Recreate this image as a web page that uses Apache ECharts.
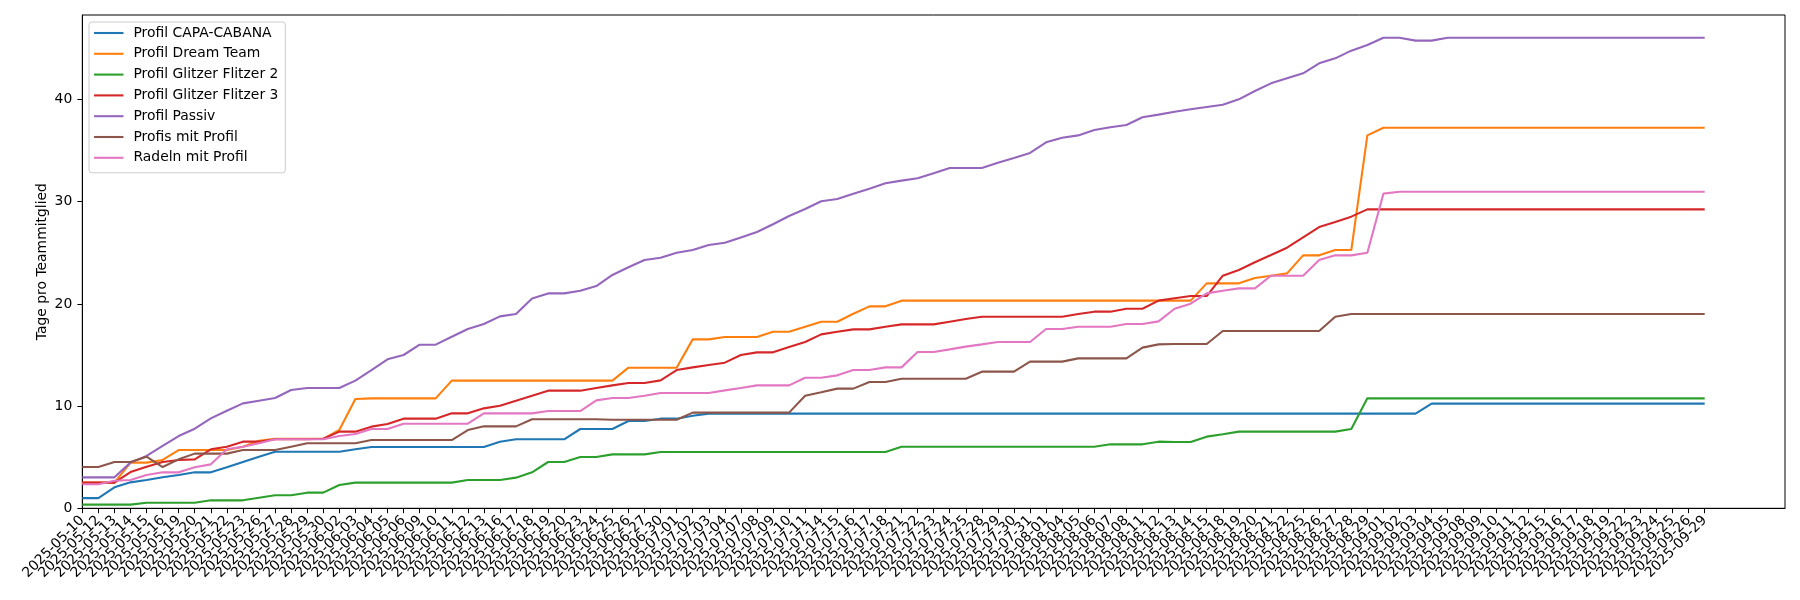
<!DOCTYPE html>
<html>
<head>
<meta charset="utf-8">
<script src="https://cdn.jsdelivr.net/npm/echarts@6/dist/echarts.min.js"></script>
<style>html,body{margin:0;padding:0;background:#fff}#c{width:1800px;height:600px}</style>
</head>
<body>
<div id="c"></div>
<script>
const dates = [
'2025-05-10','2025-05-12','2025-05-13','2025-05-14','2025-05-15','2025-05-16','2025-05-19','2025-05-20','2025-05-21','2025-05-22','2025-05-23','2025-05-26','2025-05-27','2025-05-28','2025-05-29','2025-05-30',
'2025-06-02','2025-06-03','2025-06-04','2025-06-05','2025-06-06','2025-06-09','2025-06-10','2025-06-11','2025-06-12','2025-06-13','2025-06-16','2025-06-17','2025-06-18','2025-06-19','2025-06-20','2025-06-23','2025-06-24','2025-06-25','2025-06-26','2025-06-27','2025-06-30',
'2025-07-01','2025-07-02','2025-07-03','2025-07-04','2025-07-07','2025-07-08','2025-07-09','2025-07-10','2025-07-11','2025-07-14','2025-07-15','2025-07-16','2025-07-17','2025-07-18','2025-07-21','2025-07-22','2025-07-23','2025-07-24','2025-07-25','2025-07-28','2025-07-29','2025-07-30','2025-07-31',
'2025-08-01','2025-08-04','2025-08-05','2025-08-06','2025-08-07','2025-08-08','2025-08-11','2025-08-12','2025-08-13','2025-08-14','2025-08-15','2025-08-18','2025-08-19','2025-08-20','2025-08-21','2025-08-22','2025-08-25','2025-08-26','2025-08-27','2025-08-28','2025-08-29',
'2025-09-01','2025-09-02','2025-09-03','2025-09-04','2025-09-05','2025-09-08','2025-09-09','2025-09-10','2025-09-11','2025-09-12','2025-09-15','2025-09-16','2025-09-17','2025-09-18','2025-09-19','2025-09-22','2025-09-23','2025-09-24','2025-09-25','2025-09-26','2025-09-29'
];
// empty slots so the axis runs on past the last date, as in the reference
const padCats = ['', '', '', '', ''];

const seriesNames = ['Profil CAPA-CABANA','Profil Dream Team','Profil Glitzer Flitzer 2','Profil Glitzer Flitzer 3','Profil Passiv','Profis mit Profil','Radeln mit Profil'];
const seriesColors = ['#1f77b4','#ff7f0e','#2ca02c','#d62728','#9467bd','#8c564b','#e377c2'];

const capaCabana = [
1.0,1.0,2.05,2.54,2.77,3.03,3.26,3.52,3.52,4.01,4.53,5.05,5.54,5.54,5.54,5.54,
5.54,5.77,6.0,6.0,6.0,6.0,6.0,6.0,6.0,6.0,6.52,6.75,6.75,6.75,6.75,7.76,7.76,
7.76,8.54,8.54,8.77,8.77,9.06,9.26,9.26,9.26,9.26,9.26,9.26,9.26,9.26,9.26,9.26,9.26,
9.26,9.26,9.26,9.26,9.26,9.26,9.26,9.26,9.26,9.26,
9.26,9.26,9.26,9.26,9.26,9.26,9.26,9.26,9.26,9.26,
9.26,9.26,9.26,9.26,9.26,9.26,9.26,9.26,9.26,9.26,
9.26,9.26,9.26,9.26,
10.24,10.24,10.24,10.24,10.24,10.24,10.24,10.24,10.24,10.24,
10.24,10.24,10.24,10.24,10.24,10.24,10.24,10.24
];
const dreamTeam = [
2.51,2.51,2.51,4.47,4.47,4.73,5.7,5.7,5.7,5.7,6.03,6.6,6.8,6.8,6.8,6.8,
7.66,10.7,10.76,10.76,10.76,10.76,10.76,12.49,12.49,12.49,12.49,12.49,12.49,12.49,12.49,12.49,12.49,
12.49,13.76,13.76,13.76,13.76,16.53,16.53,16.76,16.76,16.76,17.28,17.28,17.77,18.26,18.26,19.04,19.76,
19.76,20.32,20.32,20.32,20.32,20.32,20.32,20.32,20.32,20.32,20.32,20.32,20.32,20.32,20.32,20.32,20.32,20.32,
20.32,20.32,22.01,22.01,22.01,22.53,22.76,22.99,24.75,24.75,25.27,25.27,36.49,
37.24,37.24,37.24,37.24,37.24,37.24,37.24,37.24,37.24,37.24,
37.24,37.24,37.24,37.24,37.24,37.24,37.24,37.24,37.24,37.24,37.24
];
const glitzer2 = [
0.36,0.36,0.36,0.36,0.55,0.55,0.55,0.55,0.78,0.78,0.78,1.04,1.27,1.27,1.53,1.53,
2.28,2.51,2.51,2.51,2.51,2.51,2.51,2.51,2.77,2.77,2.77,3.0,3.52,4.53,4.53,5.02,5.02,
5.28,5.28,5.28,5.51,5.51,5.51,5.51,5.51,5.51,5.51,5.51,5.51,5.51,5.51,5.51,5.51,5.51,
5.51,6.03,6.03,6.03,6.03,6.03,6.03,6.03,6.03,6.03,6.03,6.03,6.03,6.03,6.26,6.26,6.26,6.52,
6.49,6.49,7.01,7.24,7.5,7.5,7.5,7.5,7.5,7.5,7.5,7.76,
10.76,10.76,10.76,10.76,10.76,10.76,10.76,10.76,10.76,10.76,
10.76,10.76,10.76,10.76,10.76,10.76,10.76,10.76,10.76,10.76,10.76,10.76
];
const glitzer3 = [
2.51,2.51,2.51,3.55,4.07,4.53,4.73,4.79,5.77,6.03,6.52,6.52,6.75,6.75,6.75,6.8,
7.5,7.5,7.99,8.25,8.77,8.77,8.77,9.29,9.29,9.78,10.04,10.53,11.02,11.51,11.51,11.51,11.77,
12.03,12.26,12.26,12.52,13.53,13.79,14.02,14.25,15.0,15.26,15.26,15.78,16.27,17.02,17.28,17.51,17.51,
17.77,18.0,18.0,18.0,18.26,18.52,18.75,18.75,18.75,18.75,18.75,18.75,19.01,19.24,19.24,19.53,19.53,20.32,
20.55,20.77,20.77,22.76,23.32,24.07,24.78,25.5,26.51,27.52,28.01,28.54,
29.25,29.25,29.25,29.25,29.25,29.25,29.25,29.25,29.25,29.25,
29.25,29.25,29.25,29.25,29.25,29.25,29.25,29.25,29.25,29.25,29.25,29.25
];
const passiv = [
3.03,3.03,3.03,4.47,5.12,6.1,7.07,7.79,8.8,9.55,10.27,10.53,10.79,11.58,11.77,11.77,
11.77,12.49,13.53,14.58,15.0,16.01,16.01,16.79,17.54,18.03,18.78,19.01,20.54,21.03,21.03,21.29,21.75,
22.83,23.58,24.3,24.52,25.01,25.27,25.76,25.99,26.51,27.03,27.79,28.6,29.29,30.04,30.26,30.79,31.28,
31.8,32.06,32.29,32.78,33.3,33.3,33.3,33.82,34.28,34.77,35.81,36.26,36.49,37.01,37.28,37.5,38.26,38.52,
38.81,39.04,39.27,39.49,40.02,40.83,41.58,42.07,42.56,43.54,44.03,44.78,45.33,46.05,46.05,45.76,45.76,
46.05,46.05,46.05,46.05,46.05,46.05,46.05,46.05,46.05,46.05,
46.05,46.05,46.05,46.05,46.05,46.05,46.05
];
const profis = [
4.04,4.04,4.53,4.53,5.05,4.04,4.79,5.35,5.35,5.35,5.7,5.7,5.7,6.03,6.36,6.36,
6.36,6.36,6.68,6.68,6.68,6.68,6.68,6.68,7.66,8.02,8.02,8.02,8.71,8.71,8.71,8.71,8.71,
8.67,8.67,8.67,8.67,8.67,9.36,9.36,9.36,9.36,9.36,9.36,9.36,11.02,11.35,11.71,11.71,12.36,
12.36,12.68,12.68,12.68,12.68,12.68,13.37,13.37,13.37,14.35,14.35,14.35,14.67,14.67,14.67,14.67,15.72,16.04,
16.08,16.08,16.08,17.35,17.35,17.35,17.35,17.35,17.35,17.35,18.75,
19.01,19.01,19.01,19.01,19.01,19.01,19.01,19.01,19.01,19.01,
19.01,19.01,19.01,19.01,19.01,19.01,19.01,19.01,19.01,19.01,19.01,19.01,19.01
];
const radeln = [
2.35,2.35,2.7,2.77,3.26,3.52,3.52,4.01,4.3,5.77,6.03,6.36,6.75,6.75,6.75,6.75,
7.07,7.27,7.76,7.76,8.28,8.28,8.28,8.28,8.28,9.29,9.29,9.29,9.29,9.52,9.52,9.52,10.56,
10.79,10.79,11.02,11.28,11.28,11.28,11.28,11.54,11.77,12.03,12.03,12.03,12.78,12.78,13.01,13.53,13.53,
13.79,13.79,15.29,15.29,15.55,15.82,16.04,16.27,16.27,16.27,17.54,17.54,17.77,17.77,17.77,18.03,18.03,18.29,
19.53,20.02,21.03,21.29,21.52,21.52,22.76,22.76,22.76,24.3,24.75,24.75,25.01,30.79,
30.98,30.98,30.98,30.98,30.98,30.98,30.98,30.98,30.98,30.98,
30.98,30.98,30.98,30.98,30.98,30.98,30.98,30.98,30.98,30.98
];
const yTicks = [0, 10, 20, 30, 40];

const allData = [capaCabana, dreamTeam, glitzer2, glitzer3, passiv, profis, radeln];
const FONT = 'DejaVu Sans';
const chart = echarts.init(document.getElementById('c'), null, {renderer: 'canvas'});
chart.setOption({
  animation: false,
  backgroundColor: '#ffffff',
  textStyle: {fontFamily: FONT},
  grid: {left: 82.3, right: 15, top: 15, bottom: 91.7, show: true, borderColor: '#000', borderWidth: 1, backgroundColor: 'transparent'},
  legend: {
    orient: 'vertical', left: 89, top: 22,
    padding: [4, 7, 8, 4], itemGap: 6.8, itemWidth: 29.4, itemHeight: 14,
    backgroundColor: 'rgba(255,255,255,0.8)', borderColor: '#cccccc', borderWidth: 1, borderRadius: 3,
    itemStyle: {opacity: 0},
    lineStyle: {width: 2.1},
    textStyle: {fontSize: 13.9, color: '#000', fontFamily: FONT, padding: [0, 0, 0, 5]},
    data: seriesNames
  },
  xAxis: {
    type: 'category', boundaryGap: false, data: dates.concat(padCats),
    axisLine: {show: true, lineStyle: {color: '#000', width: 1}},
    axisTick: {show: true, length: 4.9, interval: function (i, v) { return v !== ''; }, lineStyle: {color: '#000', width: 1}},
    axisLabel: {interval: 0, rotate: 45, fontSize: 13.9, color: '#000', margin: 10, fontFamily: FONT},
    splitLine: {show: false}
  },
  yAxis: {
    type: 'value', min: 0, max: 48.27, interval: 10,
    name: 'Tage pro Teammitglied', nameLocation: 'middle', nameGap: 33, nameMoveOverlap: false,
    nameTextStyle: {fontSize: 13.9, color: '#000', fontFamily: FONT},
    axisLine: {show: true, lineStyle: {color: '#000', width: 1}},
    axisTick: {show: true, length: 4.9, lineStyle: {color: '#000', width: 1}, customValues: yTicks},
    axisLabel: {fontSize: 13.9, color: '#000', margin: 10, customValues: yTicks, fontFamily: FONT},
    splitLine: {show: false}
  },
  series: seriesNames.map(function (n, k) {
    return {
      name: n, type: 'line', data: allData[k], symbol: 'none', showSymbol: false,
      color: seriesColors[k],
      lineStyle: {width: 2.1, color: seriesColors[k]},
      itemStyle: {color: seriesColors[k]}
    };
  })
});
</script>
</body>
</html>
